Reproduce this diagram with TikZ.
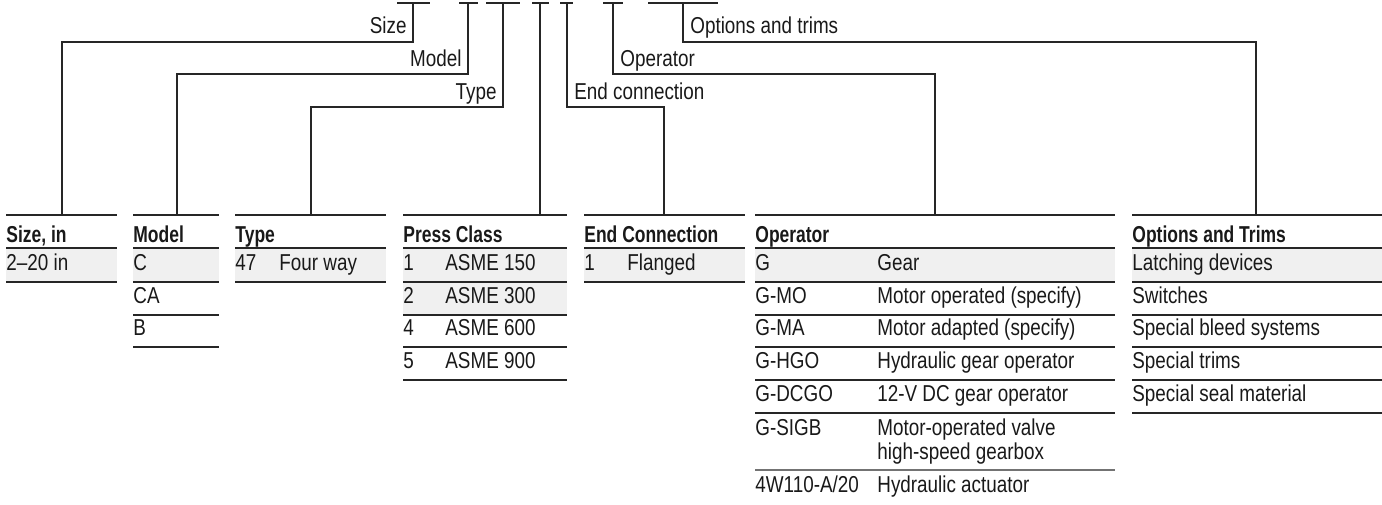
\documentclass[tikz,border=0pt]{standalone}
\usepackage{fontspec}
\setmainfont{Liberation Sans}[FakeStretch=0.82,BoldFeatures={FakeStretch=0.76}]
\usepackage{tikz}

\begin{document}
\begin{tikzpicture}[x=0.5pt,y=-0.5pt,
  rule/.style={draw=black!85,line width=0.7pt},
  leader/.style={draw=black!85,line width=0.7pt},
  shade/.style={fill=black!6},
  txt/.style={anchor=base west,inner sep=0pt,text=black!90,font=\fontsize{11.5}{14}\selectfont},
  hdr/.style={txt,font=\fontsize{11.5}{14}\selectfont\bfseries},
  lbl/.style={inner sep=0pt,text=black!90,font=\fontsize{11.5}{14}\selectfont}]
  \useasboundingbox (0,0) rectangle (1382,504);

  \draw[rule] (397,3) -- (430,3);
  \draw[rule] (459,3) -- (478,3);
  \draw[rule] (486,3) -- (520,3);
  \draw[rule] (532,3) -- (549,3);
  \draw[rule] (560,3) -- (573,3);
  \draw[rule] (603,3) -- (623,3);
  \draw[rule] (648,3) -- (718,3);
  \coordinate (bsize) at (413,3);
  \coordinate (bmodel) at (468,3);
  \coordinate (btype) at (503,3);
  \coordinate (bpress) at (540,3);
  \coordinate (bend) at (567,3);
  \coordinate (boper) at (613,3);
  \coordinate (bopt) at (683,3);

  \coordinate (tsize) at (62,215);
  \coordinate (tmodel) at (177,215);
  \coordinate (ttype) at (311,215);
  \coordinate (tpress) at (540,215);
  \coordinate (tend) at (664,215);
  \coordinate (toper) at (935,215);
  \coordinate (topt) at (1256,215);

  \draw[leader] (bsize) -- ++(0,39) -| (tsize);
  \draw[leader] (bmodel) -- ++(0,71) -| (tmodel);
  \draw[leader] (btype) -- ++(0,104) -| (ttype);
  \draw[leader] (bpress) -- (tpress);
  \draw[leader] (bend) -- ++(0,104) -| (tend);
  \draw[leader] (boper) -- ++(0,71) -| (toper);
  \draw[leader] (bopt) -- ++(0,39) -| (topt);

  \node[lbl,anchor=base east] (lsize) at (407,33) {Size};
  \node[lbl,anchor=base east] (lmodel) at (462,66) {Model};
  \node[lbl,anchor=base east] (ltype) at (497,99) {Type};
  \node[lbl,anchor=base west] (lopt) at (690,33) {Options and trims};
  \node[lbl,anchor=base west] (loper) at (620,66) {Operator};
  \node[lbl,anchor=base west] (lend) at (574,99) {End connection};

  \fill[shade] (6,248) rectangle (117,282);
  \draw[rule] (6,215) -- (117,215);
  \node[hdr] (hsize) at (6,242) {Size, in};
  \draw[rule] (6,248) -- (117,248);
  \node[txt] (size1) at (6,270) {2–20 in};
  \draw[rule] (6,282) -- (117,282);

  \fill[shade] (133,248) rectangle (219,282);
  \draw[rule] (133,215) -- (219,215);
  \node[hdr] (hmodel) at (133,242) {Model};
  \draw[rule] (133,248) -- (219,248);
  \node[txt] (model1) at (133,270) {C};
  \draw[rule] (133,282) -- (219,282);
  \node[txt] (model2) at (133,303) {CA};
  \draw[rule] (133,315) -- (219,315);
  \node[txt] (model3) at (133,335) {B};
  \draw[rule] (133,347) -- (219,347);

  \fill[shade] (235,248) rectangle (386,282);
  \draw[rule] (235,215) -- (386,215);
  \node[hdr] (htype) at (235,242) {Type};
  \draw[rule] (235,248) -- (386,248);
  \node[txt] (type1) at (235,270) {47};
  \node[txt] (type1d) at (279,270) {Four way};
  \draw[rule] (235,282) -- (386,282);

  \fill[shade] (403,248) rectangle (567,282);
  \fill[shade] (403,282) rectangle (567,315);
  \draw[rule] (403,215) -- (567,215);
  \node[hdr] (hpress) at (403,242) {Press Class};
  \draw[rule] (403,248) -- (567,248);
  \node[txt] (press1) at (403,270) {1};
  \node[txt] (press1d) at (445,270) {ASME 150};
  \draw[rule] (403,282) -- (567,282);
  \node[txt] (press2) at (403,303) {2};
  \node[txt] (press2d) at (445,303) {ASME 300};
  \draw[rule] (403,315) -- (567,315);
  \node[txt] (press3) at (403,335) {4};
  \node[txt] (press3d) at (445,335) {ASME 600};
  \draw[rule] (403,347) -- (567,347);
  \node[txt] (press4) at (403,368) {5};
  \node[txt] (press4d) at (445,368) {ASME 900};
  \draw[rule] (403,380) -- (567,380);

  \fill[shade] (584,248) rectangle (745,282);
  \draw[rule] (584,215) -- (745,215);
  \node[hdr] (hend) at (584,242) {End Connection};
  \draw[rule] (584,248) -- (745,248);
  \node[txt] (end1) at (584,270) {1};
  \node[txt] (end1d) at (627,270) {Flanged};
  \draw[rule] (584,282) -- (745,282);

  \fill[shade] (755,248) rectangle (1115,282);
  \draw[rule] (755,215) -- (1115,215);
  \node[hdr] (hoper) at (755,242) {Operator};
  \draw[rule] (755,248) -- (1115,248);
  \node[txt] (oper1) at (755,270) {G};
  \node[txt] (oper1d) at (877,270) {Gear};
  \draw[rule] (755,282) -- (1115,282);
  \node[txt] (oper2) at (755,303) {G-MO};
  \node[txt] (oper2d) at (877,303) {Motor operated (specify)};
  \draw[rule] (755,315) -- (1115,315);
  \node[txt] (oper3) at (755,335) {G-MA};
  \node[txt] (oper3d) at (877,335) {Motor adapted (specify)};
  \draw[rule] (755,347) -- (1115,347);
  \node[txt] (oper4) at (755,368) {G-HGO};
  \node[txt] (oper4d) at (877,368) {Hydraulic gear operator};
  \draw[rule] (755,380) -- (1115,380);
  \node[txt] (oper5) at (755,401) {G-DCGO};
  \node[txt] (oper5d) at (877,401) {12-V DC gear operator};
  \draw[rule] (755,413) -- (1115,413);
  \node[txt] (oper6) at (755,435) {G-SIGB};
  \node[txt] (oper6d) at (877,435) {Motor-operated valve};
  \node[txt] (oper6e) at (877,459) {high-speed gearbox};
  \draw[rule,draw=black!55] (755,470) -- (1115,470);
  \node[txt] (oper7) at (755,492) {4W110-A/20};
  \node[txt] (oper7d) at (877,492) {Hydraulic actuator};

  \fill[shade] (1132,248) rectangle (1382,282);
  \draw[rule] (1132,215) -- (1382,215);
  \node[hdr] (hopt) at (1132,242) {Options and Trims};
  \draw[rule] (1132,248) -- (1382,248);
  \node[txt] (opt1) at (1132,270) {Latching devices};
  \draw[rule] (1132,282) -- (1382,282);
  \node[txt] (opt2) at (1132,303) {Switches};
  \draw[rule] (1132,315) -- (1382,315);
  \node[txt] (opt3) at (1132,335) {Special bleed systems};
  \draw[rule] (1132,347) -- (1382,347);
  \node[txt] (opt4) at (1132,368) {Special trims};
  \draw[rule] (1132,380) -- (1382,380);
  \node[txt] (opt5) at (1132,401) {Special seal material};
  \draw[rule] (1132,413) -- (1382,413);
\end{tikzpicture}
\end{document}
